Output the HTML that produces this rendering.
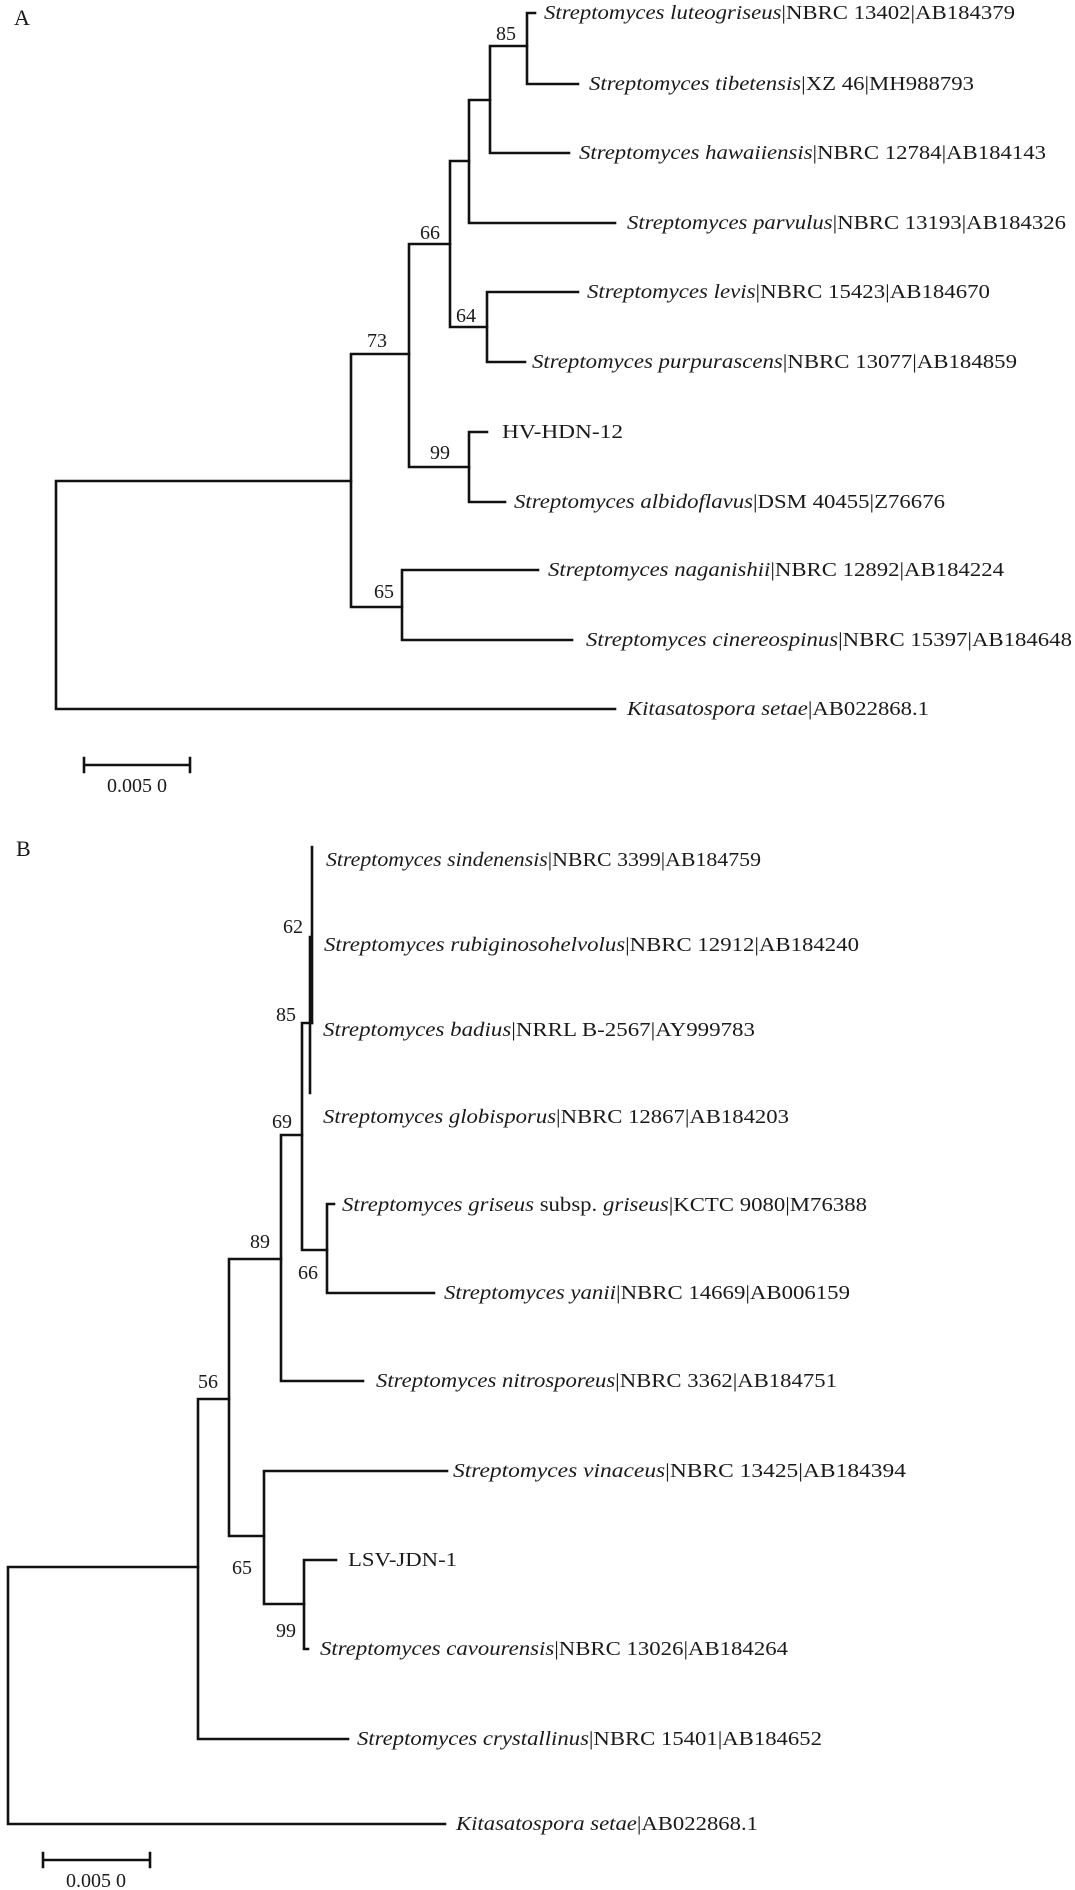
<!DOCTYPE html>
<html><head><meta charset="utf-8"><style>
html,body{margin:0;padding:0;background:#fff;}
svg{display:block;}
text{font-family:"Liberation Serif",serif;font-size:20px;fill:#1a1a1a;}
.i{font-style:italic;}
</style></head><body>
<svg width="1075" height="1890" viewBox="0 0 1075 1890" xmlns="http://www.w3.org/2000/svg">
<g stroke="#111" stroke-width="2.6" fill="none" stroke-linecap="square">
<!-- Tree A -->
<path d="M56,481V709 M56,481H351 M56,709H615"/>
<path d="M351,354V607 M351,354H409 M351,607H402"/>
<path d="M409,244V467 M409,244H450 M409,467H469"/>
<path d="M450,161V327 M450,161H469 M450,327H487"/>
<path d="M469,100V223 M469,100H490 M469,223H615"/>
<path d="M490,46V153 M490,46H527 M490,153H569"/>
<path d="M527,13V84 M527,13H535 M527,84H578"/>
<path d="M487,292V362 M487,292H578 M487,362H525"/>
<path d="M469,432V502 M469,432H487 M469,502H505"/>
<path d="M402,570V640 M402,570H538 M402,640H572"/>
<path d="M84,765H190 M84,758V772 M190,758V772"/>
<!-- Tree B -->
<path d="M8,1567V1824 M8,1567H198 M8,1824H445"/>
<path d="M198,1399V1739 M198,1739H348 M198,1399H229"/>
<path d="M229,1259V1536 M229,1259H281 M229,1536H264"/>
<path d="M281,1135V1381 M281,1381H363 M281,1135H302"/>
<path d="M302,1023V1250 M302,1023H312 M302,1250H327"/>
<path d="M312,847V1023 M310,937V1093"/>
<path d="M327,1204V1293 M327,1204H334 M327,1293H434"/>
<path d="M264,1471V1604 M264,1471H447 M264,1604H304"/>
<path d="M304,1560V1649 M304,1560H336 M304,1649H308"/>
<path d="M43,1860H150 M43,1853V1867 M150,1853V1867"/>
</g>
<text x="14" y="25" style="font-size:22px">A</text>
<text x="496" y="40">85</text>
<text x="420" y="239">66</text>
<text x="456" y="322">64</text>
<text x="367" y="347">73</text>
<text x="430" y="459">99</text>
<text x="374" y="598">65</text>
<text x="544" y="19" textLength="471" lengthAdjust="spacingAndGlyphs"><tspan class="i">Streptomyces luteogriseus</tspan>|NBRC 13402|AB184379</text>
<text x="589" y="90" textLength="385" lengthAdjust="spacingAndGlyphs"><tspan class="i">Streptomyces tibetensis</tspan>|XZ 46|MH988793</text>
<text x="579" y="159" textLength="467" lengthAdjust="spacingAndGlyphs"><tspan class="i">Streptomyces hawaiiensis</tspan>|NBRC 12784|AB184143</text>
<text x="627" y="229" textLength="439" lengthAdjust="spacingAndGlyphs"><tspan class="i">Streptomyces parvulus</tspan>|NBRC 13193|AB184326</text>
<text x="587" y="298" textLength="403" lengthAdjust="spacingAndGlyphs"><tspan class="i">Streptomyces levis</tspan>|NBRC 15423|AB184670</text>
<text x="532" y="368" textLength="485" lengthAdjust="spacingAndGlyphs"><tspan class="i">Streptomyces purpurascens</tspan>|NBRC 13077|AB184859</text>
<text x="502" y="438" textLength="121" lengthAdjust="spacingAndGlyphs">HV-HDN-12</text>
<text x="514" y="508" textLength="431" lengthAdjust="spacingAndGlyphs"><tspan class="i">Streptomyces albidoflavus</tspan>|DSM 40455|Z76676</text>
<text x="548" y="576" textLength="456" lengthAdjust="spacingAndGlyphs"><tspan class="i">Streptomyces naganishii</tspan>|NBRC 12892|AB184224</text>
<text x="586" y="646" textLength="486" lengthAdjust="spacingAndGlyphs"><tspan class="i">Streptomyces cinereospinus</tspan>|NBRC 15397|AB184648</text>
<text x="627" y="715" textLength="302" lengthAdjust="spacingAndGlyphs"><tspan class="i">Kitasatospora setae</tspan>|AB022868.1</text>
<text x="137" y="792" text-anchor="middle">0.005 0</text>

<text x="16" y="856" style="font-size:22px">B</text>
<text x="283" y="933">62</text>
<text x="276" y="1021">85</text>
<text x="272" y="1128">69</text>
<text x="250" y="1248">89</text>
<text x="298" y="1279">66</text>
<text x="198" y="1388">56</text>
<text x="232" y="1574">65</text>
<text x="276" y="1637">99</text>
<text x="326" y="866" textLength="435" lengthAdjust="spacingAndGlyphs"><tspan class="i">Streptomyces sindenensis</tspan>|NBRC 3399|AB184759</text>
<text x="324" y="951" textLength="535" lengthAdjust="spacingAndGlyphs"><tspan class="i">Streptomyces rubiginosohelvolus</tspan>|NBRC 12912|AB184240</text>
<text x="323" y="1036" textLength="432" lengthAdjust="spacingAndGlyphs"><tspan class="i">Streptomyces badius</tspan>|NRRL B-2567|AY999783</text>
<text x="323" y="1123" textLength="466" lengthAdjust="spacingAndGlyphs"><tspan class="i">Streptomyces globisporus</tspan>|NBRC 12867|AB184203</text>
<text x="342" y="1211" textLength="525" lengthAdjust="spacingAndGlyphs"><tspan class="i">Streptomyces griseus</tspan> subsp. <tspan class="i">griseus</tspan>|KCTC 9080|M76388</text>
<text x="444" y="1299" textLength="406" lengthAdjust="spacingAndGlyphs"><tspan class="i">Streptomyces yanii</tspan>|NBRC 14669|AB006159</text>
<text x="376" y="1387" textLength="461" lengthAdjust="spacingAndGlyphs"><tspan class="i">Streptomyces nitrosporeus</tspan>|NBRC 3362|AB184751</text>
<text x="453" y="1477" textLength="453" lengthAdjust="spacingAndGlyphs"><tspan class="i">Streptomyces vinaceus</tspan>|NBRC 13425|AB184394</text>
<text x="348" y="1566" textLength="109" lengthAdjust="spacingAndGlyphs">LSV-JDN-1</text>
<text x="320" y="1655" textLength="468" lengthAdjust="spacingAndGlyphs"><tspan class="i">Streptomyces cavourensis</tspan>|NBRC 13026|AB184264</text>
<text x="357" y="1745" textLength="465" lengthAdjust="spacingAndGlyphs"><tspan class="i">Streptomyces crystallinus</tspan>|NBRC 15401|AB184652</text>
<text x="456" y="1830" textLength="302" lengthAdjust="spacingAndGlyphs"><tspan class="i">Kitasatospora setae</tspan>|AB022868.1</text>
<text x="96" y="1887" text-anchor="middle">0.005 0</text>
</svg>
</body></html>
